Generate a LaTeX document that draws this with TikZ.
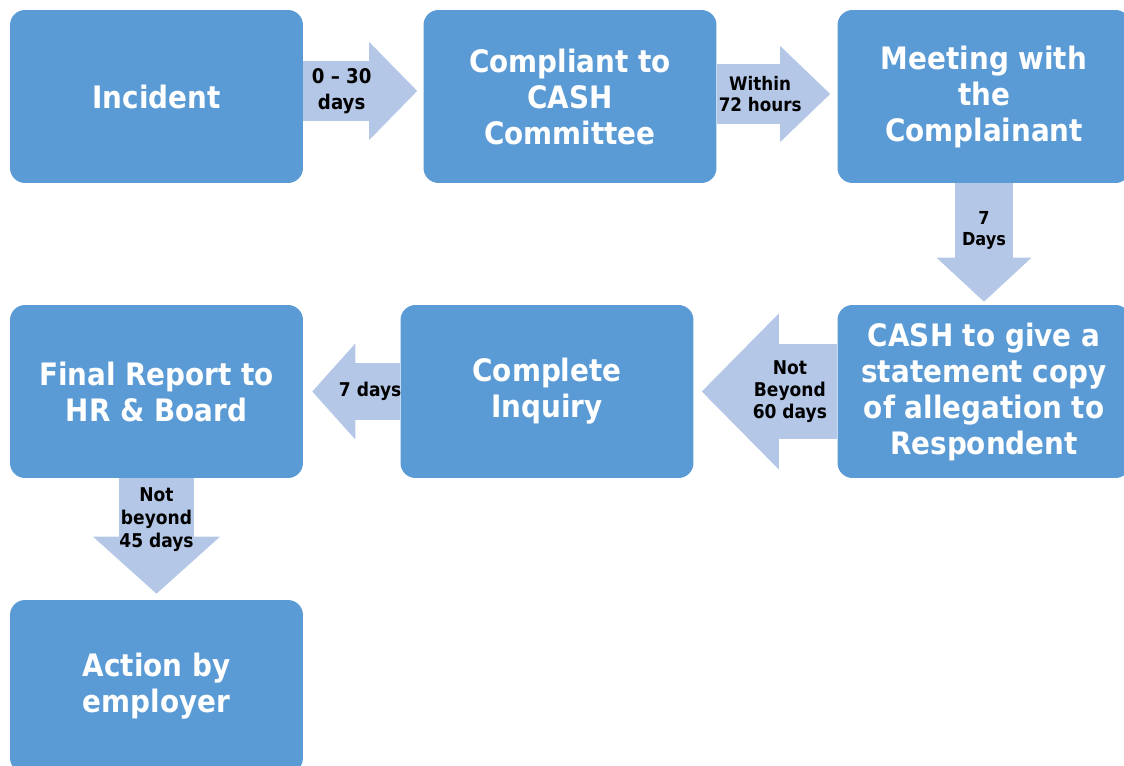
\documentclass[tikz,border=0pt]{standalone}
\usepackage{fontspec}
\setmainfont{DejaVu Sans}[FakeStretch=0.9]
\usepackage{xcolor}
\usetikzlibrary{arrows.meta}
\definecolor{boxblue}{HTML}{5B9BD5}
\definecolor{arrowblue}{HTML}{B4C7E7}

\begin{document}
\begin{tikzpicture}[x=0.02cm, y=-0.02cm,
  box/.style={rectangle, rounded corners=0.3cm, fill=boxblue,
              minimum width=5.86cm, minimum height=3.46cm,
              text=white, align=center, inner sep=2pt,
              font=\fontsize{17.6}{20.5}\selectfont\bfseries},
  lbl/.style={align=center, inner sep=0pt, text=black,
              font=\fontsize{10.8}{12.5}\selectfont\bfseries},
  blockarr/.style n args={3}{draw=arrowblue, line width=#1,
              -{Triangle[length=#3, width=#2, line width=0pt]}}]
  \useasboundingbox (0,0) rectangle (1124,766);
  \clip (0,0) rectangle (1124,766);
  % boxes
  \node[box] (inc)  at (156.5,96.5)  {Incident};
  \node[box] (cmp)  at (570,96.5)    {Compliant to\\CASH\\Committee};
  \node[box] (mtg)  at (984,96.5)    {Meeting with\\the\\Complainant};
  \node[box] (cash) at (984,391.5)   {CASH to give a\\statement copy\\of allegation to\\Respondent};
  \node[box] (inq)  at (547,391.5)   {Complete\\Inquiry};
  \node[box] (rep)  at (156.5,391.5) {Final Report to\\HR \& Board};
  \node[box] (act)  at (156.5,686.5) {Action by\\employer};
  % arrows
  \draw[blockarr={1.2cm}{1.96cm}{0.96cm}, shorten >=0.12cm]
    ([yshift=0.11cm]inc.east) -- ([yshift=0.11cm]cmp.west)
    node[lbl, pos=0.32, font=\fontsize{11.5}{14.8}\selectfont\bfseries] {0 -- 30\\days};
  \draw[blockarr={1.2cm}{1.92cm}{1cm}, shorten >=0.14cm]
    ([yshift=0.05cm]cmp.east) -- ([yshift=0.05cm]mtg.west)
    node[lbl, pos=0.36, font=\fontsize{10.6}{12}\selectfont\bfseries] {Within\\72 hours};
  \draw[blockarr={1.16cm}{1.9cm}{0.88cm}, shorten >=0.06cm]
    (mtg.south) -- (cash.north)
    node[lbl, pos=0.385, font=\fontsize{10.2}{12}\selectfont\bfseries] {7\\Days};
  \draw[blockarr={1.9cm}{3.12cm}{1.54cm}, shorten >=0.16cm]
    (cash.west) -- (inq.east)
    node[lbl, pos=0.33] {Not\\Beyond\\60 days};
  \draw[blockarr={1.16cm}{1.92cm}{0.86cm}, shorten >=0.18cm]
    (inq.west) -- (rep.east)
    node[lbl, pos=0.31] {7 days};
  \draw[blockarr={1.52cm}{2.54cm}{1.14cm}, shorten >=0.12cm]
    (rep.south) -- (act.north)
    node[lbl, pos=0.34, font=\fontsize{10.8}{13}\selectfont\bfseries] {Not\\beyond\\45 days};
\end{tikzpicture}
\end{document}
